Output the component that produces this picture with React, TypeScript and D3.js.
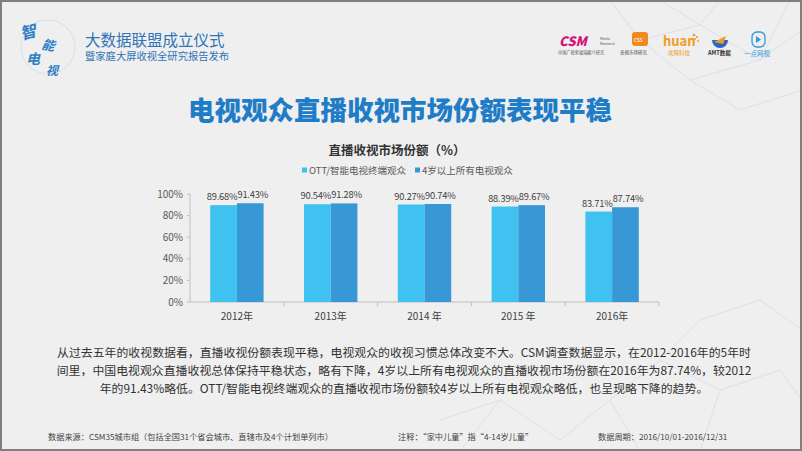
import React from 'react';
import * as d3 from 'd3';

const years = ['2012年', '2013年', '2014 年', '2015 年', '2016年'];
const seriesNames = ['OTT/智能电视终端观众', '4岁以上所有电视观众'];
const ottShare = [89.68, 90.54, 90.27, 88.39, 83.71];
const allShare = [91.43, 91.28, 90.74, 89.67, 87.74];
const yTicks = [0, 20, 40, 60, 80, 100];

const COLORS = ['#40C2F1', '#3798D5'];
const FONT = '"Noto Sans CJK SC", "Noto Sans", sans-serif';

const paragraph = [
  '从过去五年的收视数据看，直播收视份额表现平稳，电视观众的收视习惯总体改变不大。CSM调查数据显示，在2012-2016年的5年时',
  '间里，中国电视观众直播收视总体保持平稳状态，略有下降，4岁以上所有电视观众的直播收视市场份额在2016年为87.74%，较2012',
  '年的91.43%略低。OTT/智能电视终端观众的直播收视市场份额较4岁以上所有电视观众略低，也呈现略下降的趋势。',
];

// faint network decoration in the background
const netLines: [number, number, number, number][] = [
  [610, 0, 640, 40], [640, 40, 700, 25], [700, 25, 760, 60], [640, 40, 690, 80],
  [690, 80, 760, 60], [700, 25, 720, 0], [760, 60, 802, 30], [690, 80, 740, 110],
  [740, 110, 802, 90], [660, 0, 700, 25], [760, 60, 790, 0],
  [610, 400, 660, 360], [660, 360, 720, 390], [720, 390, 780, 370], [610, 400, 640, 451],
  [660, 360, 700, 320], [700, 320, 760, 300], [720, 390, 700, 451], [440, 420, 500, 400],
  [500, 400, 560, 440], [500, 400, 460, 451], [760, 300, 802, 330], [780, 370, 802, 400],
  [560, 440, 610, 400],
];

export default function App() {
  const W = 802;
  const H = 451;
  const left = 190;
  const right = 659;
  const top = 194;
  const bottom = 302;

  const x0 = d3.scaleBand<string>().domain(years).range([left, right]).paddingInner(0).paddingOuter(0);
  const groupPad = (x0.bandwidth() - 53.4) / 2;
  const x1 = d3.scaleBand<number>().domain([0, 1]).range([groupPad, x0.bandwidth() - groupPad]).padding(0);
  const y = d3.scaleLinear().domain([0, 100]).range([bottom, top]);

  const series = [ottShare, allShare];
  const labelShift = [-1.5, 2.5];

  return (
    <div style={{ position: 'fixed', left: 0, top: 0 }}>
      <svg width={W} height={H} style={{ display: 'block', fontFamily: FONT }}>
        <rect x={0} y={0} width={W} height={H} fill="#EFEFEF" />
        <g stroke="#C9D8E4" strokeWidth={0.8} opacity={0.7}>
          {netLines.map((l, i) => (
            <line key={i} x1={l[0]} y1={l[1]} x2={l[2]} y2={l[3]} />
          ))}
        </g>

        {/* header logo */}
        <g fill="#2E7FC4" fontWeight={700} fontStyle="italic">
          <circle cx={48} cy={47} r={27} fill="none" stroke="#D6E0E8" strokeWidth={1} />
          <text x={20} y={38} fontSize={16} transform="rotate(-15 28 32)">智</text>
          <text x={42} y={50} fontSize={13} transform="rotate(10 48 44)">能</text>
          <text x={26} y={64} fontSize={14}>电</text>
          <text x={46} y={75} fontSize={12}>视</text>
        </g>
        <text x={85} y={45.5} fontSize={15.5} fill="#2F74B8">大数据联盟成立仪式</text>
        <text x={85} y={60} fontSize={10.3} fill="#2F74B8">暨家庭大屏收视全研究报告发布</text>

        {/* partner logos */}
        <text x={559} y={46} fontSize={13} fontWeight={900} fontStyle="italic" fill="#D4147C">CSM</text>
        <text x={600} y={40} fontSize={3.5} fill="#555">Media</text>
        <text x={600} y={45} fontSize={3.5} fill="#555">Research</text>
        <text x={558} y={54} fontSize={4.2} fill="#555">中国广视索福瑞媒介研究</text>
        <rect x={632} y={32} width={16} height={14} rx={3} fill="#F08A1E" />
        <text x={634} y={42} fontSize={6} fill="#fff">css</text>
        <text x={620} y={54} fontSize={4.5} fill="#444">央视市场研究</text>
        <text x={663} y={46} fontSize={13} fontWeight={700} fill="#F39A22">huan</text>
        <g fill="#F39A22">
          <circle cx={694} cy={35} r={1.3} />
          <circle cx={697} cy={37} r={1.1} />
          <circle cx={695} cy={39} r={1} />
          <circle cx={698} cy={41} r={0.9} />
        </g>
        <text x={668} y={55} fontSize={5.5} fill="#F39A22">欢网科技</text>
        <path d="M712,40 a8,8 0 1,0 16,0 l-8,0 z" fill="#2E64C8" />
        <path d="M714,42 l12,-6 l-3,8 z" fill="#E8A020" />
        <text x={708} y={55} fontSize={5.5} fontWeight={700} fill="#333">AMT数据</text>
        <rect x={752} y={32} width={13} height={15} rx={5} fill="none" stroke="#2E9AD8" strokeWidth={1.3} />
        <path d="M756,36 l5,3.5 l-5,3.5 z" fill="#2E9AD8" />
        <text x={744} y={56} fontSize={6.5} fill="#2E9AD8">一点网视</text>

        {/* title */}
        <text x={400} y={120} textAnchor="middle" fontSize={26.5} fontWeight={900} fill="#1F7CC6">
          电视观众直播收视市场份额表现平稳
        </text>
        <text x={397} y={155} textAnchor="middle" fontSize={12.5} fontWeight={700} fill="#333">
          直播收视市场份额（%）
        </text>

        {/* legend */}
        {seriesNames.map((name, i) => {
          const lx = i === 0 ? 302 : 415;
          return (
            <g key={name}>
              <rect x={lx} y={167.5} width={5} height={5} fill={COLORS[i]} />
              <text x={lx + 7} y={174} fontSize={9.5} fill="#595959">{name}</text>
            </g>
          );
        })}

        {/* axes */}
        <line x1={left} x2={left} y1={y(100)} y2={y(0)} stroke="#BFBFBF" />
        <line x1={left} x2={right} y1={y(0)} y2={y(0)} stroke="#BFBFBF" />
        {yTicks.map((t) => (
          <g key={t}>
            <line x1={left - 3} x2={left} y1={y(t)} y2={y(t)} stroke="#BFBFBF" />
            <text x={183} y={y(t) + 3.5} textAnchor="end" fontSize={10} fill="#595959">{`${t}%`}</text>
          </g>
        ))}
        {years.map((yr) => (
          <line key={yr} x1={(x0(yr) as number) + x0.bandwidth()} x2={(x0(yr) as number) + x0.bandwidth()}
            y1={y(0)} y2={y(0) + 4} stroke="#BFBFBF" />
        ))}
        {years.map((yr) => (
          <text key={yr} x={(x0(yr) as number) + x0.bandwidth() / 2} y={320} textAnchor="middle" fontSize={10} fill="#404040">
            {yr}
          </text>
        ))}

        {/* bars */}
        {years.map((yr, gi) => (
          <g key={yr} transform={`translate(${x0(yr)},0)`}>
            {series.map((s, si) => (
              <g key={si}>
                <rect x={x1(si)} y={y(s[gi])} width={x1.bandwidth()} height={y(0) - y(s[gi])} fill={COLORS[si]} />
                <text x={(x1(si) as number) + x1.bandwidth() / 2 + labelShift[si]} y={y(s[gi]) - 5}
                  textAnchor="middle" fontSize={9.3} letterSpacing={-0.2} fill="#404040">
                  {`${s[gi].toFixed(2)}%`}
                </text>
              </g>
            ))}
          </g>
        ))}

        {/* paragraph */}
        {paragraph.map((line, i) => (
          <text key={i} x={404} y={357 + i * 18} textAnchor="middle" fontSize={11.9} fill="#333">
            {line}
          </text>
        ))}

        {/* footer */}
        <text x={48} y={440} fontSize={8.2} fill="#444">数据来源：CSM35城市组（包括全国31个省会城市、直辖市及4个计划单列市）</text>
        <text x={398} y={440} fontSize={8.2} fill="#444">注释：“家中儿童”指“4-14岁儿童”</text>
        <text x={598} y={440} fontSize={8.2} fill="#444">数据周期：2016/10/01-2016/12/31</text>

        <rect x={1} y={1} width={W - 2} height={H - 2} fill="none" stroke="#7F7F7F" strokeWidth={2} />
      </svg>
    </div>
  );
}
